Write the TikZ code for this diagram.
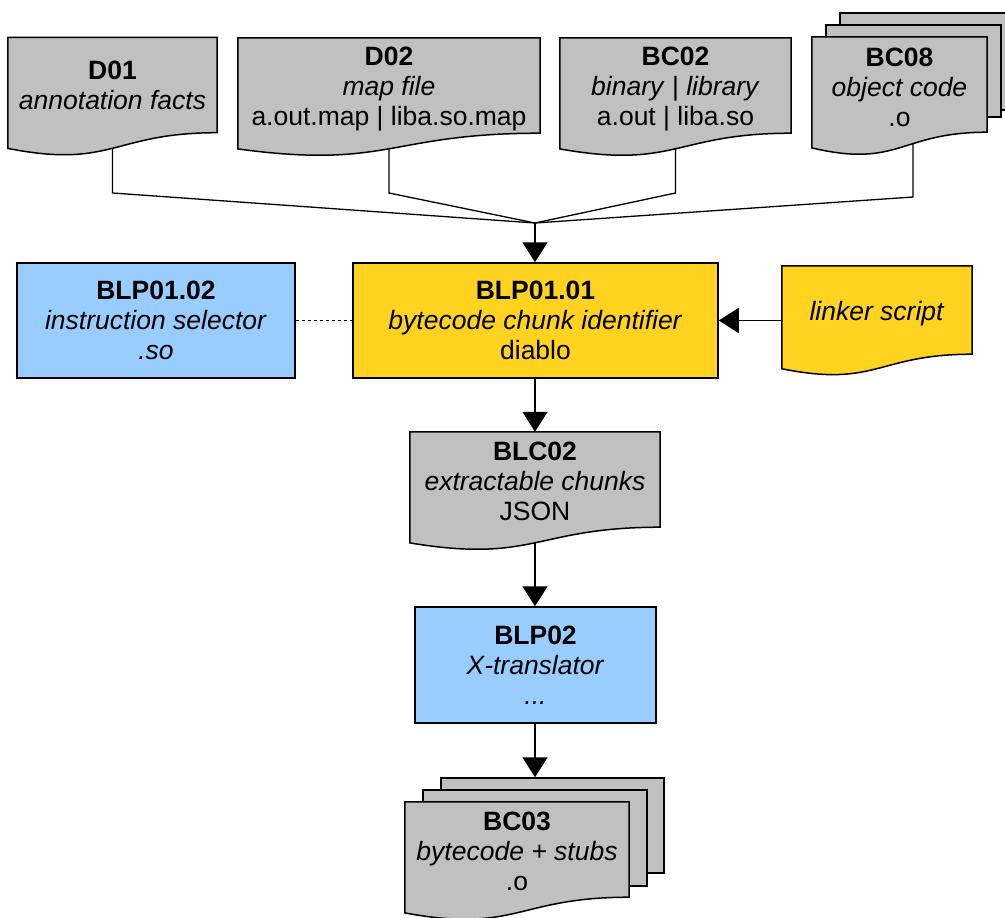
\documentclass[tikz,border=0pt]{standalone}
\usepackage{fontspec}
\setmainfont{Liberation Sans}
\usetikzlibrary{arrows.meta,calc}
\pgfdeclarelayer{background}
\pgfdeclarelayer{lines}
\pgfsetlayers{lines,background,main}
\definecolor{docgray}{HTML}{C0C0C0}
\definecolor{boxblue}{HTML}{99CCFF}
\definecolor{boxgold}{HTML}{FFD320}
\newcommand{\docpath}[2]{%
  \path[draw=black, line width=1.5pt, fill=#2, line join=miter]
    (#1.north west) -- (#1.north east) -- (#1.south east)
    .. controls (#1.south) and ($(#1.north)!1.381!(#1.south)$) ..
    ($(#1.north west)!1.1646!(#1.south west)$) -- cycle;}
\begin{document}
\begin{tikzpicture}[x=1pt,y=-1pt,
  txt/.style={align=center, font=\fontsize{26.5}{30}\selectfont, inner sep=0pt},
  docnode/.style={inner sep=0pt, minimum width=#1, minimum height=95pt},
  procbox/.style={txt, draw=black, line width=1.5pt, minimum width=#1, minimum height=115pt},
  sheet/.style={draw=black, line width=1.5pt, fill=docgray, inner sep=0pt},
  conn/.style={draw=black, line width=1.3pt},
  arr/.style={draw=black, line width=1.5pt, -{Triangle[length=20pt,width=25pt]}},
  dots/.style={draw=black, line width=1.3pt, dash pattern=on 3pt off 3pt}]
\useasboundingbox (0,0) rectangle (1005,918);

% --- top documents (shape areas) ---
\node[docnode=209pt] (d01) at (112.5,85) {};
\node[docnode=302pt] (d02) at (389,85.5) {};
\node[docnode=231pt] (bc02) at (675.5,85.5) {};
\node[docnode=175pt] (bc08) at (899.5,84.5) {};
% texts
\node[txt] (d01-t) at (d01) {\textbf{D01}\\\textit{annotation facts}};
\node[txt] (d02-t) at ([yshift=-4pt]d02.center) {\textbf{D02}\\\textit{map file}\\a.out.map | liba.so.map};
\node[txt] (bc02-t) at ([yshift=-3.5pt]bc02.center) {\textbf{BC02}\\\textit{binary} | \textit{library}\\a.out | liba.so};
\node[txt] (bc08-t) at ([yshift=-3pt]bc08.center) {\textbf{BC08}\\\textit{object code}\\.o};

% --- middle row ---
\node[procbox=278pt, fill=boxblue] (blp0102) at (156,320.5) {\textbf{BLP01.02}\\\textit{instruction selector}\\\textit{.so}};
\node[procbox=365pt, fill=boxgold] (blp0101) at (535.5,320.5) {\textbf{BLP01.01}\\\textit{bytecode chunk identifier}\\diablo};
\node[inner sep=0pt, minimum width=190pt, minimum height=88pt] (linker) at (877,310) {};
\node[txt] (linker-t) at ([yshift=-4pt]linker.center) {\textit{linker script}};

% --- lower part ---
\node[docnode=250pt] (blc02) at (535,479.5) {};
\node[txt] (blc02-t) at ([yshift=-2pt]blc02.center) {\textbf{BLC02}\\\textit{extractable chunks}\\JSON};
\node[procbox=241pt, minimum height=116pt, fill=boxblue] (blp02) at (535.5,665) {\textbf{BLP02}\\\textit{X-translator}\\\textit{...}};
\node[docnode=224pt] (bc03) at (517,849.5) {};
\node[txt] (bc03-t) at ([yshift=-2pt]bc03.center) {\textbf{BC03}\\\textit{bytecode + stubs}\\.o};

% --- shapes behind the texts ---
\begin{pgfonlayer}{background}
  \docpath{d01}{docgray}
  \docpath{d02}{docgray}
  \docpath{bc02}{docgray}
  \node[sheet, minimum width=175pt, minimum height=97pt] (bc08c) at (927.5,61.5) {};
  \node[sheet, minimum width=175pt, minimum height=92pt] (bc08b) at (913.5,71) {};
  \docpath{bc08}{docgray}
  \docpath{linker}{boxgold}
  \docpath{blc02}{docgray}
  \node[sheet, minimum width=223pt, minimum height=95pt] (bc03c) at (552.5,825.5) {};
  \node[sheet, minimum width=224pt, minimum height=96pt] (bc03b) at (535,838) {};
  \docpath{bc03}{docgray}
\end{pgfonlayer}

% --- converging connectors ---
\coordinate (m) at (535,223);
\coordinate (t1) at (112.5,193);
\coordinate (t2) at (389,193);
\coordinate (t3) at (675.5,193);
\coordinate (t4) at (913,197);
\begin{pgfonlayer}{lines}
  \draw[conn] (d01.south) -- (t1) -- (m);
  \draw[conn] (d02.south) -- (t2) -- (m);
  \draw[conn] (bc02.south) -- (t3) -- (m);
  \draw[conn] (t4 |- bc08.south) -- (t4) -- (m);
\end{pgfonlayer}
\draw[arr] (m) -- (m |- blp0101.north);

\draw[dots] (blp0102.east) -- (blp0101.west);
\draw[arr] (linker.west |- blp0101.east) -- (blp0101.east);

\draw[arr] (blp0101.south -| blc02.north) -- (blc02.north);
\draw[arr] ($(blc02.north)!1.163!(blc02.south)$) -- (blp02.north -| blc02.north);
\draw[arr] (blp02.south -| blc02.north) -- (blc02.north |- bc03c.north);
\end{tikzpicture}
\end{document}
